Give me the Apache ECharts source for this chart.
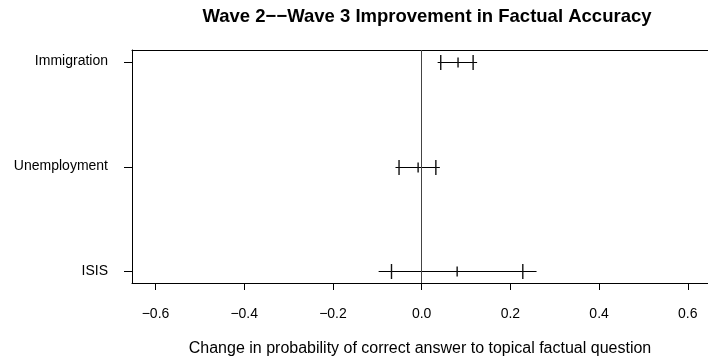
<!DOCTYPE html>
<html>
<head>
<meta charset="utf-8">
<script src="https://cdn.jsdelivr.net/npm/echarts@6/dist/echarts.min.js"></script>
<style>html,body{margin:0;padding:0;background:#fff}#c{width:708px;height:359px}</style>
</head>
<body>
<div id="c"></div>
<script>
var categories = ['Immigration', 'Unemployment', 'ISIS'];
var estimate = [0.082, -0.008, 0.080];
var lowerInner = [0.043, -0.051, -0.068];
var upperInner = [0.116, 0.032, 0.228];
var lowerOuter = [0.036, -0.059, -0.097];
var upperOuter = [0.125, 0.041, 0.259];
var xTicks = [-0.6, -0.4, -0.2, 0.0, 0.2, 0.4, 0.6];
var yTicks = [1, 2, 3];

var data = categories.map(function (c, i) {
  return [i + 1, lowerOuter[i], lowerInner[i], estimate[i], upperInner[i], upperOuter[i]];
});

function fmt(v) {
  var s = Math.abs(v).toFixed(1);
  return (v < 0 ? '\u2212' : '') + s;
}

var chart = echarts.init(document.getElementById('c'), null, {renderer: 'canvas'});
var FONT = '"Liberation Sans", Arial, Helvetica, sans-serif';
var XMIN = -0.653, XMAX = 0.6455;
chart.setOption({
  animation: false,
  backgroundColor: '#fff',
  title: {
    text: 'Wave 2\u2212\u2212Wave 3 Improvement in Factual Accuracy',
    left: 422, top: 2, textAlign: 'center',
    textStyle: {fontFamily: FONT, fontSize: 18.5, fontWeight: 'bold', color: '#000'}
  },
  grid: {
    left: 132, top: 50, right: 0, height: 233,
    show: false, outerBoundsMode: 'none', containLabel: false
  },
  xAxis: [{
    type: 'value', min: XMIN, max: XMAX, position: 'bottom',
    axisLine: {show: true, onZero: false, lineStyle: {color: '#000', width: 1}},
    axisTick: {show: true, customValues: xTicks, length: 7, lineStyle: {color: '#000'}},
    axisLabel: {customValues: xTicks, formatter: fmt, margin: 24, fontFamily: FONT, fontSize: 14, color: '#000'},
    splitLine: {show: false},
    name: 'Change in probability of correct answer to topical factual question',
    nameLocation: 'middle', nameGap: 58,
    nameTextStyle: {fontFamily: FONT, fontSize: 16, color: '#000'}
  }, {
    type: 'value', min: XMIN, max: XMAX, position: 'top',
    axisLine: {show: true, onZero: false, lineStyle: {color: '#000', width: 1}},
    axisTick: {show: false}, axisLabel: {show: false}, splitLine: {show: false}
  }],
  yAxis: {
    type: 'value', min: 0.89, max: 3.11, inverse: true, position: 'left',
    axisLine: {show: true, onZero: false, lineStyle: {color: '#000', width: 1}},
    axisTick: {show: false},
    axisLabel: {customValues: yTicks, margin: 24, fontFamily: FONT, fontSize: 14, color: '#000',
      formatter: function (v) { return categories[Math.round(v) - 1] || ''; }},
    splitLine: {show: false}
  },
  series: [{
    type: 'custom',
    xAxisIndex: 0,
    data: data,
    renderItem: function (params, api) {
      var y = api.value(0);
      var pOL = api.coord([api.value(1), y]);
      var pIL = api.coord([api.value(2), y]);
      var pE = api.coord([api.value(3), y]);
      var pIU = api.coord([api.value(4), y]);
      var pOU = api.coord([api.value(5), y]);
      var left = params.coordSys.x;
      var yc = Math.round(pE[1]) + 0.5;
      var st = {stroke: '#000', lineWidth: 1};
      var tk = {stroke: '#111', lineWidth: 1.4};
      function vline(p, h, s) {
        return {type: 'line', shape: {x1: p[0], y1: yc - h, x2: p[0], y2: yc + h}, style: s};
      }
      return {type: 'group', children: [
        {type: 'line', shape: {x1: left - 8, y1: yc, x2: left + 1, y2: yc}, style: {stroke: '#000', lineWidth: 1}},
        {type: 'line', shape: {x1: pOL[0], y1: yc, x2: pOU[0], y2: yc}, style: st},
        vline(pIL, 7.5, tk), vline(pIU, 7.5, tk), vline(pE, 5, tk)
      ]};
    },
    clip: false,
    markLine: {
      silent: true, symbol: ['none', 'none'],
      label: {show: false},
      lineStyle: {color: '#444', width: 1, type: 'solid'},
      data: [{xAxis: 0}]
    }
  }]
});
</script>
</body>
</html>
